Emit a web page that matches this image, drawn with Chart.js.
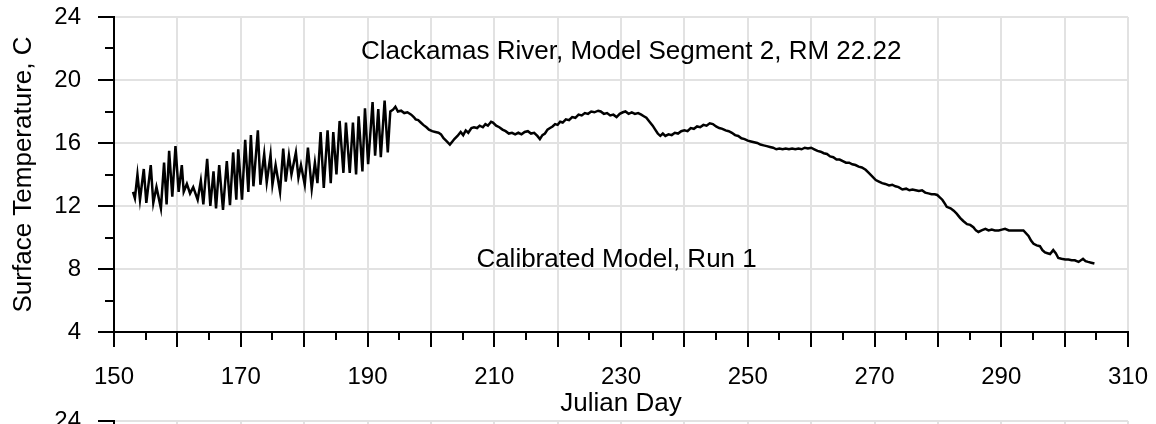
<!DOCTYPE html>
<html>
<head>
<meta charset="utf-8">
<title>Clackamas River, Model Segment 2</title>
<script src="https://cdn.jsdelivr.net/npm/chart.js@4.4.1/dist/chart.umd.min.js"></script>
<style>
  html, body { margin: 0; padding: 0; background: #fff; overflow: hidden; }
  #wrap { position: relative; width: 1156px; height: 424px; overflow: hidden; }
  #main { position: absolute; left: 0; top: 0; }
  #next { position: absolute; left: 0; top: 404px; }
</style>
</head>
<body>
<div id="wrap">
  <canvas id="main" width="1156" height="424"></canvas>
  <canvas id="next" width="1156" height="424"></canvas>
</div>
<script>
// diurnal swings, days 153-194 (peaks / troughs)
const diurnalDays = [
  153.0,153.3,153.7,154.1,154.7,155.1,155.8,156.2,156.7,157.4,
  157.9,158.3,158.7,159.2,159.7,160.2,160.7,161.0,161.5,162.0,
  162.5,163.2,163.7,164.1,164.7,165.2,165.7,166.1,166.6,167.2,
  167.8,168.3,168.8,169.3,169.6,170.2,170.7,171.2,171.6,172.0,
  172.7,173.1,173.7,174.1,174.7,175.0,175.5,176.2,176.7,177.1,
  177.6,178.0,178.7,179.1,179.5,180.1,180.6,181.2,181.7,182.1,
  182.6,183.1,183.7,184.2,184.6,185.1,185.6,186.2,186.6,187.2,
  187.7,188.2,188.6,189.2,189.6,190.1,190.8,191.2,191.7,192.1,
  192.7,193.2,193.5,193.6
];
const diurnalTemps = [
  12.9,12.5,14.0,12.4,14.35,12.2,14.6,12.2,13.2,11.85,
  14.75,12.1,15.5,12.6,15.8,12.9,14.6,12.9,13.4,12.8,
  13.2,12.4,13.6,12.1,15.0,12.0,14.2,11.85,14.6,11.75,
  14.85,12.05,15.4,12.4,15.6,12.4,16.2,12.9,16.5,13.25,
  16.8,13.35,15.3,13.5,15.25,13.35,14.6,12.9,15.65,13.55,
  15.2,14.0,15.4,13.8,14.6,13.35,15.7,13.1,14.75,13.45,
  16.7,13.15,16.8,13.45,16.7,14.0,17.4,14.1,17.3,14.1,
  17.3,14.0,17.7,14.2,18.2,14.65,18.6,15.2,18.15,15.1,
  18.7,15.4,17.4,18.0
];

// smoother part, days 194-305
const laterDays = [
  194.0,194.4,194.8,195.3,195.8,196.3,196.9,197.3,197.6,198.0,
  198.4,198.8,199.3,199.7,200.2,200.7,201.2,201.6,202.0,202.4,
  203.0,203.4,203.7,204.2,204.7,205.1,205.5,205.9,206.4,206.8,
  207.3,207.7,208.2,208.6,209.0,209.5,209.8,210.3,210.8,211.3,
  211.8,212.3,212.8,213.3,213.8,214.3,214.8,215.3,215.8,216.3,
  216.8,217.2,217.6,218.0,218.4,218.8,219.2,219.6,220.0,220.4,
  220.8,221.3,221.8,222.3,222.8,223.3,223.8,224.3,224.8,225.3,
  225.8,226.4,226.8,227.3,227.8,228.3,228.8,229.3,229.8,230.3,
  230.7,231.2,231.7,232.2,232.7,233.2,233.6,234.0,234.5,235.0,
  235.4,235.8,236.2,236.6,237.0,237.5,238.0,238.5,239.0,239.5,
  240.0,240.5,241.0,241.5,242.0,242.5,243.0,243.5,244.0,244.5,
  245.0,245.5,246.0,246.5,247.0,247.5,248.0,248.5,249.0,249.5,
  250.0,250.5,251.0,251.5,252.0,252.5,253.0,253.5,254.0,254.5,
  255.0,255.5,256.0,256.5,257.0,257.5,258.0,258.5,259.0,259.5,
  260.0,260.5,261.0,261.5,262.0,262.5,263.0,263.5,264.0,264.5,
  265.0,265.5,266.0,266.5,267.0,267.5,268.0,268.6,269.1,269.6,
  270.2,270.7,271.2,271.7,272.3,272.8,273.3,273.8,274.4,275.0,
  275.5,276.0,276.5,277.0,277.5,278.0,278.5,279.0,279.5,279.9,
  280.3,280.7,281.1,281.4,282.0,282.5,283.0,283.5,284.0,284.6,
  285.1,285.6,286.0,286.4,286.9,287.5,288.0,288.5,289.0,289.6,
  290.1,290.6,291.2,291.7,292.5,293.5,294.3,294.7,295.1,295.6,
  296.1,296.5,296.9,297.3,297.7,298.2,298.6,299.0,299.5,300.1,
  300.6,301.1,301.6,302.2,302.9,303.3,303.7,304.2,304.7
];
const laterTemps = [
  18.1,18.3,18.0,18.05,17.9,17.95,17.8,17.65,17.5,17.45,
  17.3,17.15,17.0,16.85,16.75,16.7,16.65,16.55,16.3,16.15,
  15.9,16.1,16.25,16.45,16.7,16.5,16.8,16.65,16.95,17.0,
  16.95,17.1,17.0,17.2,17.1,17.35,17.3,17.1,17.0,16.85,
  16.75,16.6,16.65,16.55,16.65,16.55,16.7,16.75,16.6,16.65,
  16.45,16.25,16.5,16.6,16.85,16.95,17.05,17.2,17.15,17.35,
  17.3,17.5,17.45,17.65,17.6,17.8,17.75,17.9,17.85,18.0,
  17.95,18.05,18.0,17.85,17.9,17.75,17.8,17.65,17.85,17.95,
  18.0,17.85,17.95,17.85,17.9,17.8,17.7,17.6,17.35,17.1,
  16.85,16.6,16.45,16.6,16.45,16.55,16.5,16.65,16.6,16.75,
  16.8,16.75,16.95,16.9,17.05,17.0,17.15,17.1,17.25,17.2,
  17.05,16.95,16.9,16.8,16.75,16.65,16.5,16.45,16.3,16.25,
  16.15,16.1,16.05,16.0,15.9,15.85,15.8,15.75,15.7,15.6,
  15.65,15.6,15.65,15.6,15.65,15.6,15.65,15.6,15.7,15.65,
  15.7,15.6,15.5,15.45,15.35,15.3,15.15,15.1,14.95,14.95,
  14.85,14.75,14.75,14.65,14.6,14.5,14.45,14.3,14.1,13.9,
  13.65,13.55,13.45,13.4,13.3,13.35,13.25,13.2,13.05,13.1,
  13.0,13.05,13.0,12.95,13.0,12.85,12.8,12.75,12.75,12.7,
  12.55,12.4,12.15,11.95,11.85,11.7,11.5,11.25,11.05,10.85,
  10.8,10.65,10.45,10.35,10.45,10.55,10.45,10.5,10.45,10.45,
  10.5,10.55,10.45,10.45,10.45,10.45,10.1,9.8,9.6,9.5,
  9.45,9.2,9.05,9.0,8.95,9.2,9.0,8.7,8.65,8.6,
  8.6,8.55,8.55,8.45,8.65,8.5,8.45,8.4,8.35
];

const xTickLabels = [150, 170, 190, 210, 230, 250, 270, 290, 310];
const yTickLabels = [4, 8, 12, 16, 20, 24];

const xTitle = 'Julian Day';
const yTitle = 'Surface Temperature, C';
const notes = [
  { text: 'Clackamas River, Model Segment 2, RM 22.22', day: 231.6, temp: 21.8 },
  { text: 'Calibrated Model, Run 1', day: 229.3, temp: 8.6 }
];

const FONT = "'Liberation Sans', Arial, Helvetica, sans-serif";
Chart.defaults.font.family = FONT;
Chart.defaults.color = '#000';

const allDays = diurnalDays.concat(laterDays);
const allTemps = diurnalTemps.concat(laterTemps);
const series = allDays.map((d, i) => ({ x: d, y: allTemps[i] }));

// short ticks between the labelled ones
const minorTicks = {
  id: 'minorTicks',
  afterDraw(chart) {
    const { ctx, scales: { x, y } } = chart;
    ctx.save();
    ctx.strokeStyle = '#000';
    ctx.lineWidth = 2;
    ctx.beginPath();
    x.ticks.forEach(t => {
      if (t.value % 10 !== 0) {
        const px = Math.round(x.getPixelForValue(t.value));
        ctx.moveTo(px, x.top);
        ctx.lineTo(px, x.top + 8);
      }
    });
    y.ticks.forEach(t => {
      if (t.value % 4 !== 0) {
        const py = Math.round(y.getPixelForValue(t.value));
        ctx.moveTo(y.right, py);
        ctx.lineTo(y.right - 9, py);
      }
    });
    ctx.stroke();
    ctx.restore();
  }
};

// text notes placed in data coordinates
const notesPlugin = {
  id: 'notes',
  afterDraw(chart, args, opts) {
    if (!opts.items) return;
    const { ctx, scales: { x, y } } = chart;
    ctx.save();
    ctx.fillStyle = '#000';
    ctx.font = '26px ' + FONT;
    ctx.textAlign = 'center';
    ctx.textBaseline = 'middle';
    opts.items.forEach(n => {
      ctx.fillText(n.text, x.getPixelForValue(n.day), y.getPixelForValue(n.temp));
    });
    ctx.restore();
  }
};

function buildChart(canvasId, data, items) {
  return new Chart(document.getElementById(canvasId), {
    type: 'line',
    data: {
      datasets: [{
        data: data,
        borderColor: '#000',
        borderWidth: 2.5,
        pointRadius: 0,
        tension: 0,
        fill: false
      }]
    },
    options: {
      responsive: false,
      animation: false,
      layout: { padding: { top: 17, right: 28, bottom: 0, left: 0 } },
      plugins: {
        legend: { display: false },
        tooltip: { enabled: false },
        notes: { items: items }
      },
      scales: {
        x: {
          type: 'linear',
          min: 150,
          max: 310,
          afterFit: s => {
            s.height = 92;
            s.paddingLeft = 0;
            s.paddingRight = 0;
          },
          ticks: {
            stepSize: 5,
            autoSkip: false,
            maxRotation: 0,
            padding: 16,
            font: { size: 24 },
            callback: v => xTickLabels.includes(v) ? String(v) : ''
          },
          grid: {
            color: c => (c.tick && c.tick.value % 10 === 0 && c.tick.value !== 150) ? '#e2e2e2' : 'transparent',
            lineWidth: 2,
            tickLength: 15,
            tickWidth: 2,
            tickColor: c => (c.tick && c.tick.value % 10 === 0) ? '#000' : 'transparent'
          },
          border: { color: '#000', width: 2 },
          title: {
            display: true,
            text: xTitle,
            font: { size: 26 },
            padding: { top: 0, bottom: 5 }
          }
        },
        y: {
          min: 4,
          max: 24,
          afterFit: s => {
            s.width = 114;
            s.paddingTop = 0;
            s.paddingBottom = 0;
          },
          ticks: {
            stepSize: 2,
            autoSkip: false,
            padding: 17,
            font: { size: 24 },
            callback: v => yTickLabels.includes(v) ? String(v) : ''
          },
          grid: {
            color: c => (c.tick && c.tick.value % 4 === 0 && c.tick.value !== 4) ? '#e2e2e2' : 'transparent',
            lineWidth: 2,
            tickLength: 16,
            tickWidth: 2,
            tickColor: c => (c.tick && c.tick.value % 4 === 0) ? '#000' : 'transparent'
          },
          border: { color: '#000', width: 2 },
          title: {
            display: true,
            text: yTitle,
            font: { size: 26 },
            padding: { top: 8, bottom: 0 }
          }
        }
      }
    },
    plugins: [minorTicks, notesPlugin]
  });
}

buildChart('main', series, notes);
// top edge of the next panel below
buildChart('next', [], null);
</script>
</body>
</html>
